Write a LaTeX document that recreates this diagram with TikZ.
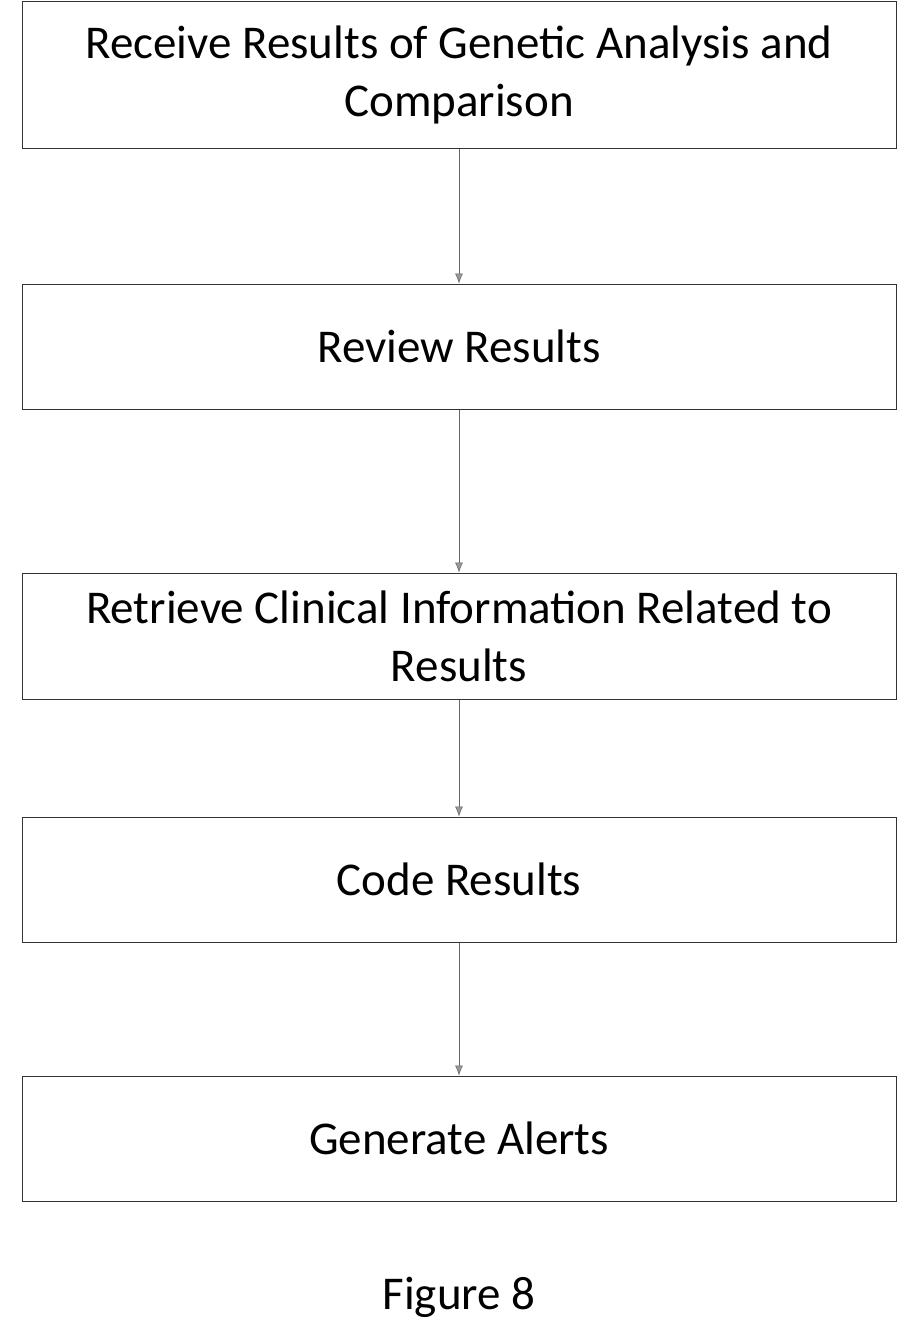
\documentclass[tikz,border=0pt]{standalone}
\usepackage{fontspec}
\setmainfont{Carlito}
\usetikzlibrary{arrows.meta}
\begin{document}
\begin{tikzpicture}[x=1pt,y=-1pt,
  box/.style={draw=black!80,line width=1pt,minimum width=874pt,align=center,font=\fontsize{47}{58}\selectfont,inner sep=0pt},
  arr/.style={draw=black!60,line width=0.6pt,-{Latex[length=10pt,width=8pt,fill=black!40]}}]
\useasboundingbox (0,0) rectangle (918,1341);
\node[box,minimum height=147pt] (a) at (459,75) {Receive Results of Genetic Analysis and\\Comparison};
\node[box,minimum height=125pt] (b) at (459,346.5) {Review Results};
\node[box,minimum height=126pt] (c) at (459,636) {Retrieve Clinical Information Related to\\Results};
\node[box,minimum height=125pt] (d) at (459,879.5) {Code Results};
\node[box,minimum height=125pt] (e) at (459,1138.5) {Generate Alerts};
\node[font=\fontsize{47}{58}\selectfont] (f) at (459,1297) {Figure 8};
\draw[arr] (a) -- (b);
\draw[arr] (b) -- (c);
\draw[arr] (c) -- (d);
\draw[arr] (d) -- (e);
\end{tikzpicture}
\end{document}
